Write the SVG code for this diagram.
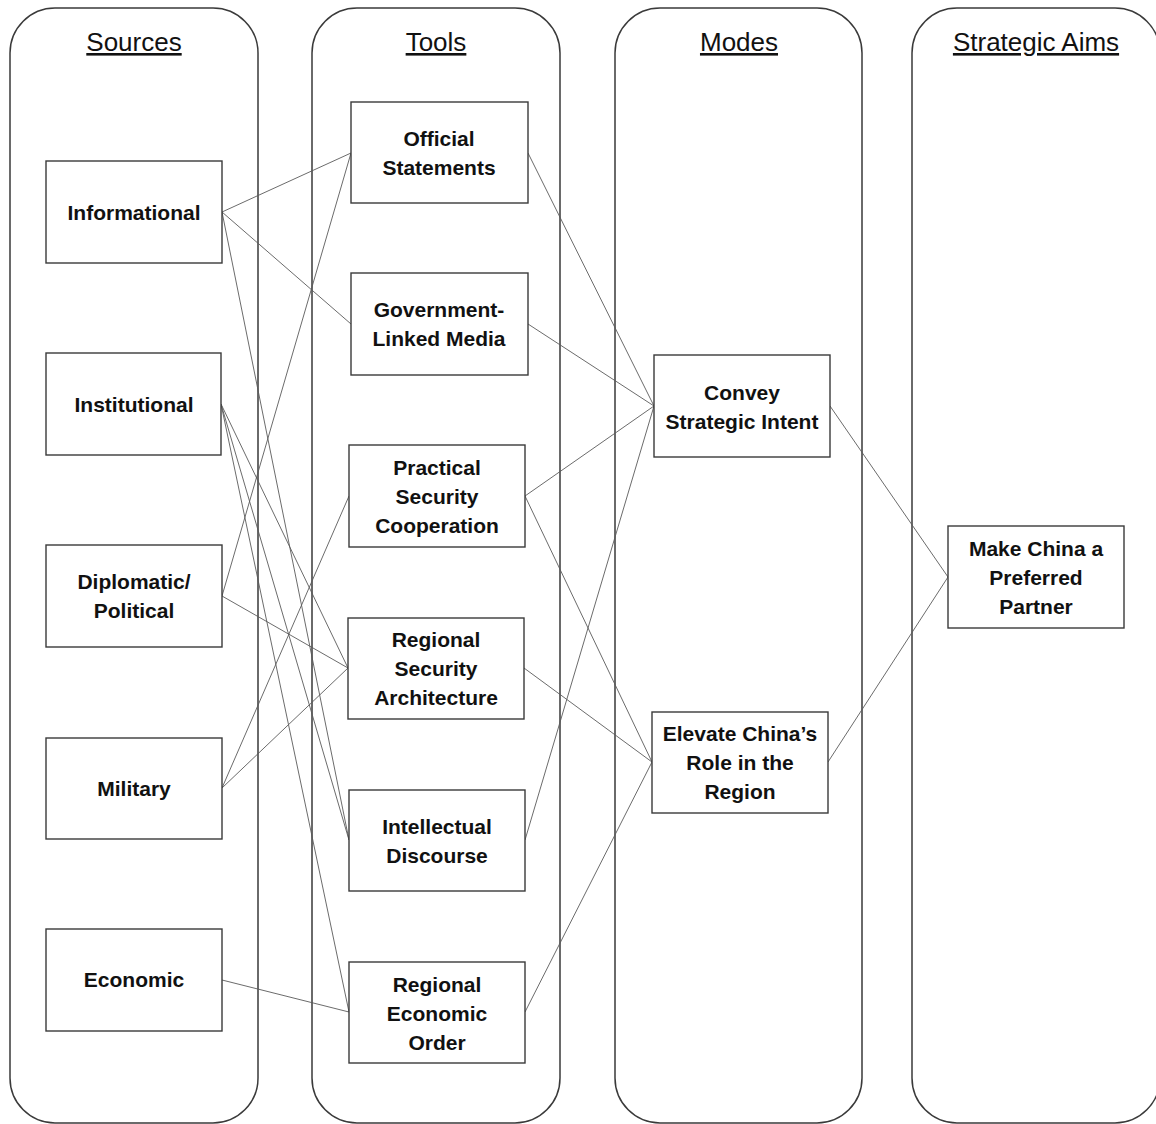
<svg xmlns="http://www.w3.org/2000/svg" width="1156" height="1124" viewBox="0 0 1156 1124">
<style>
.lane{fill:#fff;stroke:#3a3a3a;stroke-width:1.5}
.node rect{fill:#fff;stroke:#3a3a3a;stroke-width:1.4}
.node text{font-family:"Liberation Sans",Arial,sans-serif;font-weight:bold;font-size:21px;fill:#111;text-anchor:middle}
.title{font-family:"Liberation Sans",Arial,sans-serif;font-size:26px;fill:#111;text-anchor:middle;text-decoration:underline}
.conn line{stroke:#5a5a5a;stroke-width:0.9;fill:none}
</style>
<rect width="1156" height="1124" fill="#fff"/>
<g id="lanes">
<rect class="lane" x="10" y="8" width="248" height="1115" rx="45" ry="45"/>
<rect class="lane" x="312" y="8" width="248" height="1115" rx="45" ry="45"/>
<rect class="lane" x="615" y="8" width="247" height="1115" rx="45" ry="45"/>
<rect class="lane" x="912" y="8" width="248" height="1115" rx="45" ry="45"/>
<text class="title" x="134" y="51">Sources</text>
<text class="title" x="436" y="51">Tools</text>
<text class="title" x="739" y="51">Modes</text>
<text class="title" x="1036" y="51">Strategic Aims</text>
</g>
<g id="connectors" class="conn">
<line x1="222" y1="212" x2="351" y2="153"/>
<line x1="222" y1="212" x2="351" y2="324"/>
<line x1="222" y1="212" x2="349" y2="840"/>
<line x1="221" y1="404" x2="348" y2="668"/>
<line x1="221" y1="404" x2="349" y2="840"/>
<line x1="221" y1="404" x2="349" y2="1012"/>
<line x1="222" y1="596" x2="351" y2="153"/>
<line x1="222" y1="596" x2="348" y2="668"/>
<line x1="222" y1="788" x2="349" y2="496"/>
<line x1="222" y1="788" x2="348" y2="668"/>
<line x1="222" y1="980" x2="349" y2="1012"/>
<line x1="528" y1="153" x2="654" y2="406"/>
<line x1="528" y1="324" x2="654" y2="406"/>
<line x1="525" y1="496" x2="654" y2="406"/>
<line x1="525" y1="840" x2="654" y2="406"/>
<line x1="525" y1="496" x2="652" y2="762"/>
<line x1="524" y1="668" x2="652" y2="762"/>
<line x1="525" y1="1012" x2="652" y2="762"/>
<line x1="830" y1="406" x2="948" y2="577"/>
<line x1="828" y1="762" x2="948" y2="577"/>
</g>
<g id="n-informational" class="node"><rect x="46" y="161" width="176" height="102"/><text x="134" y="220">Informational</text></g>
<g id="n-institutional" class="node"><rect x="46" y="353" width="175" height="102"/><text x="134" y="412">Institutional</text></g>
<g id="n-diplomatic" class="node"><rect x="46" y="545" width="176" height="102"/><text x="134" y="589">Diplomatic/</text><text x="134" y="618">Political</text></g>
<g id="n-military" class="node"><rect x="46" y="738" width="176" height="101"/><text x="134" y="796">Military</text></g>
<g id="n-economic" class="node"><rect x="46" y="929" width="176" height="102"/><text x="134" y="987">Economic</text></g>
<g id="n-official" class="node"><rect x="351" y="102" width="177" height="101"/><text x="439" y="146">Official</text><text x="439" y="175">Statements</text></g>
<g id="n-media" class="node"><rect x="351" y="273" width="177" height="102"/><text x="439" y="317">Government-</text><text x="439" y="346">Linked Media</text></g>
<g id="n-practical" class="node"><rect x="349" y="445" width="176" height="102"/><text x="437" y="475">Practical</text><text x="437" y="504">Security</text><text x="437" y="533">Cooperation</text></g>
<g id="n-architecture" class="node"><rect x="348" y="618" width="176" height="101"/><text x="436" y="647">Regional</text><text x="436" y="676">Security</text><text x="436" y="705">Architecture</text></g>
<g id="n-discourse" class="node"><rect x="349" y="790" width="176" height="101"/><text x="437" y="834">Intellectual</text><text x="437" y="863">Discourse</text></g>
<g id="n-economic-order" class="node"><rect x="349" y="962" width="176" height="101"/><text x="437" y="992">Regional</text><text x="437" y="1021">Economic</text><text x="437" y="1050">Order</text></g>
<g id="n-convey" class="node"><rect x="654" y="355" width="176" height="102"/><text x="742" y="400">Convey</text><text x="742" y="429">Strategic Intent</text></g>
<g id="n-elevate" class="node"><rect x="652" y="712" width="176" height="101"/><text x="740" y="741">Elevate China’s</text><text x="740" y="770">Role in the</text><text x="740" y="799">Region</text></g>
<g id="n-aim" class="node"><rect x="948" y="526" width="176" height="102"/><text x="1036" y="556">Make China a</text><text x="1036" y="585">Preferred</text><text x="1036" y="614">Partner</text></g>
</svg>
